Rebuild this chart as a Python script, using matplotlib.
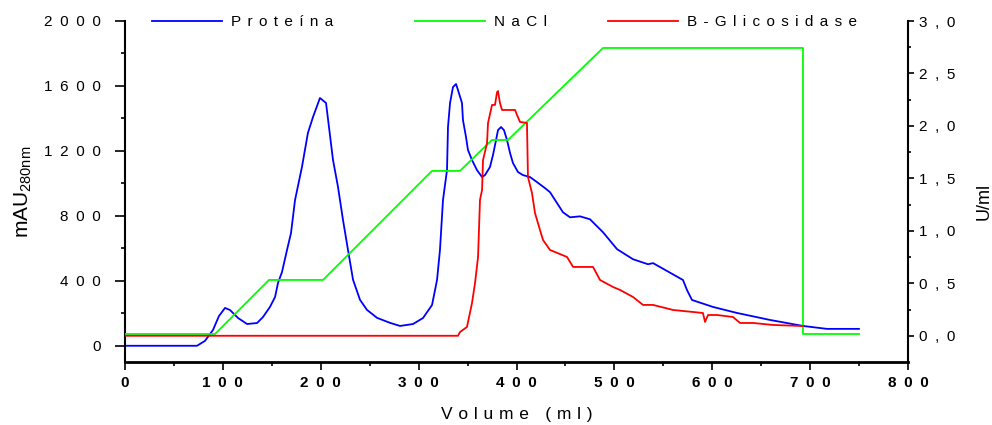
import matplotlib
matplotlib.use("Agg")
import matplotlib.pyplot as plt
from matplotlib.ticker import FixedLocator, FuncFormatter

plt.rcParams['font.family'] = ['Liberation Sans', 'DejaVu Sans']

# Proteína (mAU 280nm, left axis)
prot_x = [0, 73.6, 81.7, 89.9, 96, 102.2, 107.3, 115.5, 124.7, 134.9, 141, 148.1, 153.3,
          156.3, 160.4, 165.5, 169.6, 171.6, 173.7, 180.8, 186.9, 192.1, 199.2, 205.4,
          212.5, 217.6, 222.7, 227.8,
          233, 240.1, 247.2, 257.5, 270.8, 281, 294.3, 304.5, 313.7, 318.8, 321.8,
          324.9, 329.0, 330.0, 332.1, 335.1, 338.2, 340.2, 344.3, 345.3, 348.4, 350.4,
          354.5, 359.6, 364.8, 367.8, 372.9, 376.0, 379.1, 381.1, 384.2, 387.2, 390.3,
          393.4, 396.4, 401.5, 406.6, 413.8, 420.9, 429.1, 434.2, 447.5, 454.7, 464.9,
          475.1, 488.4, 502.7, 519.0, 534.4, 539.5, 570.1, 574.2, 579.3, 600.8, 625.3,
          659.0, 692.7, 717.2, 749.9]
prot_y = [0, 0, 30, 97, 183, 233, 220, 171, 134, 140, 177, 239, 300,
          386, 454, 589, 694, 792, 897, 1101, 1311, 1409, 1526, 1495,
          1145, 979, 776, 591,
          406, 283, 221, 172, 141, 122, 134, 171, 251, 405, 590,
          898, 1082, 1347, 1495, 1593, 1612, 1575, 1495, 1390, 1286, 1206,
          1144, 1082, 1039, 1051, 1101, 1175, 1267, 1328, 1347, 1328, 1267,
          1187, 1125, 1070, 1051, 1039, 1008, 971, 946, 822, 791, 797,
          779, 699, 595, 533, 502, 509, 405, 343, 282, 239, 202,
          159, 122, 104, 104]

# NaCl (right axis scale)
nacl_x = [0, 92.0, 147.1, 202.3, 313.6, 342.2, 374.9, 391.3, 488.4, 692.7, 692.7, 750]
nacl_y = [0.017, 0.017, 0.532, 0.532, 1.571, 1.571, 1.866, 1.866, 2.743, 2.743, 0.017, 0.017]

# B-Glicosidase (U/ml, right axis)
glic_x = [0, 340.2, 342.3, 349.4, 354.5, 357.6, 360.7, 362.7, 364.8, 365.8, 369.9, 370.9,
          375.0, 378.0, 380.1, 381.1, 383.1, 385.2, 398.5, 400.5, 403.6, 410.7, 411.7,
          415.8, 418.9, 424.0, 427.1, 434.2, 451.6, 457.8, 478.2, 485.3, 498.6, 505.7,
          519.0, 529.2, 539.5, 559.9, 590.5, 592.6, 595.7, 604.9, 621.2, 628.4, 641.6,
          662.1, 692.7]
glic_y = [0, 0, 0.036, 0.084, 0.31, 0.50, 0.75, 1.294, 1.39, 1.675, 1.837, 2.028,
          2.20, 2.20, 2.32, 2.333, 2.219, 2.152, 2.152, 2.105, 2.038, 2.028, 1.514,
          1.361, 1.170, 1.008, 0.913, 0.818, 0.751, 0.656, 0.656, 0.532, 0.465, 0.437,
          0.370, 0.294, 0.294, 0.246, 0.217, 0.132, 0.198, 0.198, 0.179, 0.122, 0.122,
          0.103, 0.093]


def spaced(s, sep='\u2002'):
    return sep.join(s)


fig = plt.figure(figsize=(9.92, 4.25), dpi=100)
ax = fig.add_axes([125 / 992, 1 - 362 / 425, 783 / 992, 341 / 425])
ax2 = ax.twinx()

l1, = ax.plot(prot_x, prot_y, color='#0000ff', lw=1.3)
l2, = ax2.plot(nacl_x, nacl_y, color='#00ff00', lw=1.3)
l3, = ax2.plot(glic_x, glic_y, color='#ff0000', lw=1.3)

ax.set_xlim(0, 800)
ax.set_ylim(-100, 2000)
ax2.set_ylim(-0.25, 3.0)

for s in ['top', 'right']:
    ax.spines[s].set_visible(False)
for s in ['top', 'left', 'bottom']:
    ax2.spines[s].set_visible(False)
ax.spines['left'].set_linewidth(1.5)
ax.spines['bottom'].set_linewidth(2.0)
ax2.spines['right'].set_linewidth(1.5)

ax.xaxis.set_major_locator(FixedLocator(range(0, 801, 100)))
ax.xaxis.set_minor_locator(FixedLocator(range(50, 800, 100)))
ax.yaxis.set_major_locator(FixedLocator(range(0, 2001, 400)))
ax.yaxis.set_minor_locator(FixedLocator(range(200, 2000, 400)))
ax2.yaxis.set_major_locator(FixedLocator([0, 0.5, 1.0, 1.5, 2.0, 2.5, 3.0]))
ax2.yaxis.set_minor_locator(FixedLocator([0.25, 0.75, 1.25, 1.75, 2.25, 2.75]))

ax.xaxis.set_major_formatter(FuncFormatter(lambda v, p: spaced(f'{v:.0f}')))
ax.yaxis.set_major_formatter(FuncFormatter(lambda v, p: spaced(f'{v:.0f}')))
ax2.yaxis.set_major_formatter(FuncFormatter(lambda v, p: spaced(f'{v:.1f}'.replace('.', ','))))

ax.tick_params(axis='x', which='major', direction='out', length=6, width=1.2,
               labelsize=11, pad=4)
ax.tick_params(axis='x', which='minor', direction='out', length=3, width=1.2)
ax.tick_params(axis='y', which='major', direction='out', length=7, width=1.2,
               labelsize=11, pad=10.5)
ax.tick_params(axis='y', which='minor', direction='out', length=3, width=1.2)
ax2.tick_params(axis='y', which='major', direction='out', length=4, width=1.2,
                labelsize=11, pad=4)
ax2.tick_params(axis='y', which='minor', direction='out', length=2.5, width=1.2)
for t in ax.get_xticklabels():
    t.set_fontweight('bold')

ax.set_xlabel(spaced('Volume (ml)', '\u2004'), fontsize=12.5, labelpad=12)
ax.set_ylabel(r'mAU$_{\mathregular{280nm}}$', fontsize=15, va='center')
ax.yaxis.set_label_coords(-0.13, 0.5)
ax2.set_ylabel('U/ml', fontsize=13, va='center')
ax2.yaxis.set_label_coords(1.097, 0.47)

leg_kw = dict(loc='center left', frameon=False, borderpad=0, borderaxespad=0,
              handlelength=4.6, handletextpad=0.6, fontsize=11)
for h, txt, x0 in [(l1, 'Proteína', 152), (l2, 'NaCl', 415), (l3, 'B-Glicosidase', 608)]:
    fig.legend(handles=[h], labels=[spaced(txt, '\u2005\u2006')],
               bbox_to_anchor=(x0 / 992, 1 - 22 / 425), **leg_kw)

fig.savefig('out.png', dpi=100)
